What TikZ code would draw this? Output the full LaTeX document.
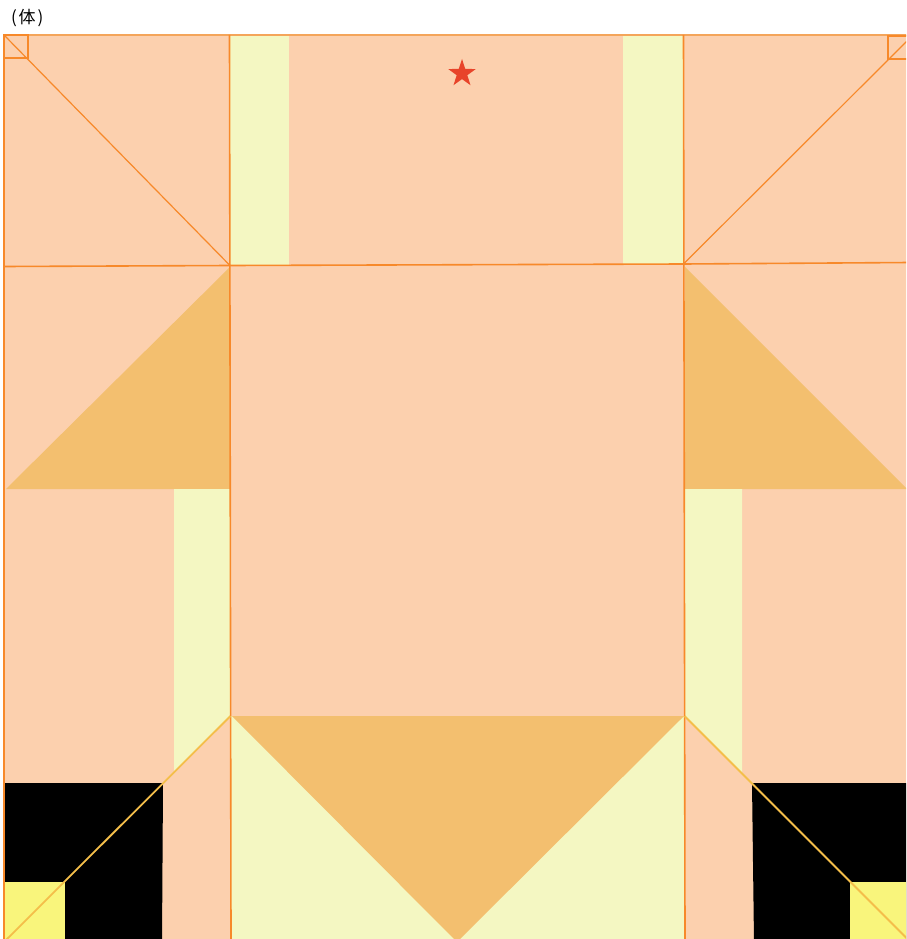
\documentclass[tikz,border=0pt]{standalone}
\usepackage{fontspec}
\newfontfamily\cjk{Noto Sans CJK SC}
\definecolor{peach}{HTML}{FCD0AE}
\definecolor{ltyel}{HTML}{F4F7C2}
\definecolor{otri}{HTML}{F3BF6F}
\definecolor{yelsq}{HTML}{F9F57C}
\definecolor{oline}{HTML}{F7892A}
\definecolor{frameline}{HTML}{F4A55A}
\definecolor{yline}{HTML}{F4BE4A}
\definecolor{starred}{HTML}{E8442A}
\begin{document}
\begin{tikzpicture}[x=1pt,y=-1pt,
  crease/.style={draw=oline,line width=1.6pt},
  thin crease/.style={draw=oline,line width=1.2pt},
  yfold/.style={draw=yline,line width=1.8pt}]
\useasboundingbox (0,0) rectangle (906,939);
\begin{scope}
\clip (0,0) rectangle (906,939);
% base paper
\fill[peach] (4,35) rectangle (910,942);
% top light strips
\fill[ltyel] (230,36) rectangle (289,266);
\fill[ltyel] (623,36) rectangle (684,264);
% middle darker triangles
\fill[otri] (230,267) -- (230,489) -- (6,489) -- cycle;
\fill[otri] (685,267) -- (907,489) -- (685,489) -- cycle;
% middle light strips
\fill[ltyel] (174,489) -- (230,489) -- (230,716) -- (174,772) -- cycle;
\fill[ltyel] (685,489) -- (742,489) -- (742,773) -- (685,716) -- cycle;
% bottom center
\fill[ltyel] (230,716) rectangle (685,942);
\fill[otri] (232,716) -- (684,716) -- (457,942) -- cycle;
% black squares and yellow squares
\fill[black] (4,783) -- (163,783) -- (162,942) -- (4,942) -- cycle;
\fill[yelsq] (4,882) rectangle (65,942);
\fill[black] (752,783) -- (910,783) -- (910,942) -- (754,942) -- cycle;
\fill[yelsq] (850,882) rectangle (910,942);
% frame
\draw[frameline,line width=2pt] (4,35) -- (910,35);
\draw[oline,line width=2pt] (4,35) -- (4,942);
% creases
\draw[crease] (229.5,35) -- (231,942);
\draw[crease] (683.5,35) -- (685,942);
\draw[crease] (4,266.5) -- (230,265.5) -- (683.5,264) -- (910,262.5);
\draw[thin crease] (4,35) -- (230,265.5);
\draw[thin crease] (683.5,264) -- (910,38);
\draw[crease] (4,35) rectangle (28,58);
\draw[crease] (888,36) rectangle (912,59);
% yellow folds
\draw[yfold] (230.5,716) -- (4,942);
\draw[yfold] (684.5,716) -- (910,941.5);
\end{scope}
% star
\node[inner sep=0pt] (star1) at (462,73.5) {};
\fill[starred] (star1.center) +(-90:14.5) -- +(-126:5.6) -- +(-162:14.5) -- +(-198:5.6) -- +(-234:14.5) -- +(-270:5.6) -- +(-306:14.5) -- +(-342:5.6) -- +(-18:14.5) -- +(-54:5.6) -- cycle;
% label
\node[anchor=west,inner sep=0pt,font=\cjk\fontsize{17}{19}\selectfont] (title) at (11,18) {(\kern1.8pt 体\kern2pt)};
\end{tikzpicture}
\end{document}
